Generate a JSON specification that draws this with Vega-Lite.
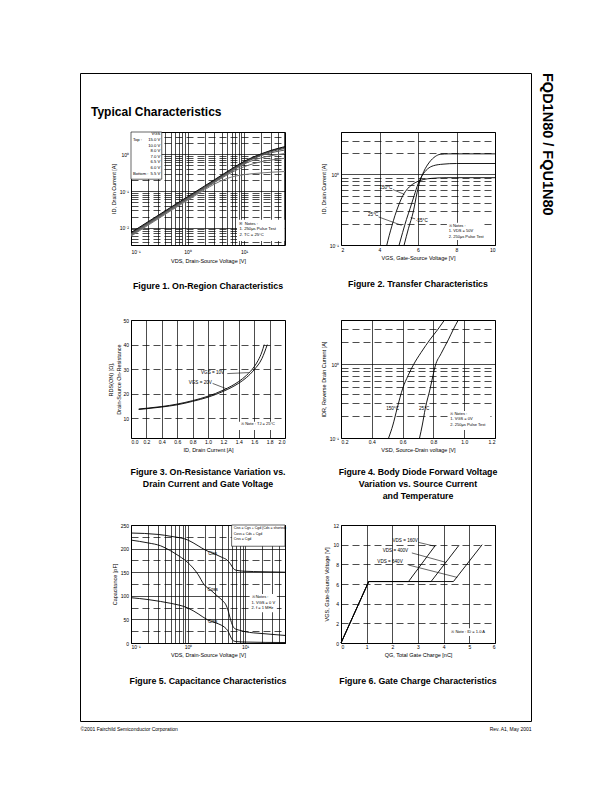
{
"$schema": "https://vega.github.io/schema/vega-lite/v6.json",
"background": "white",
"padding": {"left": 79, "top": 72, "right": 0, "bottom": 0},
"datasets": {
 "f1": [
  {"s":"15.0V","x":[0.1,0.2,0.5,1,2,3,5,7,10,15,20,30,53],"y":[0.0074,0.0146,0.0357,0.070,0.137,0.204,0.336,0.465,0.64,0.86,1.03,1.28,1.62]},
  {"s":"10.0V","x":[0.1,0.2,0.5,1,2,3,5,7,10,15,20,30,53],"y":[0.0071,0.0140,0.0345,0.067,0.132,0.197,0.324,0.448,0.62,0.84,1.0,1.24,1.55]},
  {"s":"8.0V","x":[0.1,0.2,0.5,1,2,3,5,7,10,15,20,30,53],"y":[0.0069,0.0135,0.0332,0.065,0.127,0.189,0.312,0.43,0.60,0.81,0.96,1.18,1.45]},
  {"s":"7.0V","x":[0.1,0.2,0.5,1,2,3,5,7,10,15,20,30,53],"y":[0.0066,0.0130,0.0319,0.0623,0.1225,0.182,0.30,0.41,0.58,0.77,0.92,1.1,1.31]},
  {"s":"6.5V","x":[0.1,0.2,0.5,1,2,3,5,7,10,15,20,30,53],"y":[0.0064,0.0126,0.0309,0.060,0.119,0.176,0.29,0.395,0.54,0.70,0.80,0.92,1.05]},
  {"s":"6.0V","x":[0.1,0.2,0.5,1,2,3,5,7,10,15,20,30,53],"y":[0.0062,0.0122,0.030,0.0585,0.115,0.170,0.275,0.36,0.46,0.56,0.63,0.70,0.78]},
  {"s":"5.5V","x":[0.1,0.2,0.5,1,2,3,5,7,10,15,20,30,53],"y":[0.0059,0.0117,0.0287,0.056,0.108,0.155,0.22,0.255,0.28,0.30,0.31,0.325,0.34]}
 ],
 "f1legbox": [{"x":0.1,"x2":0.35,"y":0.21,"y2":4.05}],
 "f1box": [{"x":7.5,"x2":52,"y":0.0044,"y2":0.0165}],
 "f1tl": [{"x":0.108,"y":2.78,"t":"Top :"},{"x":0.108,"y":0.338,"t":"Bottom :"},{"x":8.3,"y":0.0145,"t":"※ Notes :\n1. 250μs Pulse Test\n2. TC = 25°C"}],
 "f1tr": [{"x":0.33,"y":3.95,"t":"VGS\n15.0 V\n10.0 V\n8.0 V\n7.0 V\n6.5 V\n6.0 V\n5.5 V"}],
 "f2": [
  {"s":"150°C","x":[4.38,4.5,4.64,4.8,5.0,5.16,5.4,5.7,6.0,6.3,6.7,7.5,10],"y":[0.1,0.135,0.185,0.26,0.37,0.47,0.6,0.72,0.8,0.85,0.88,0.9,0.9]},
  {"s":"25°C","x":[5.02,5.2,5.4,5.59,5.8,6.0,6.2,6.5,6.8,7.3,8,10],"y":[0.1,0.15,0.23,0.33,0.5,0.73,0.95,1.2,1.33,1.4,1.43,1.43]},
  {"s":"-55°C","x":[5.28,5.5,5.76,5.95,6.1,6.3,6.6,6.9,7.15,7.6,10],"y":[0.1,0.17,0.3,0.55,0.8,1.1,1.5,1.8,1.93,1.96,1.96]}
 ],
 "f2lab": [{"x":4.33,"y":0.64,"t":"150°C"},{"x":3.67,"y":0.267,"t":"25°C"},{"x":6.2,"y":0.22,"t":"-55°C"}],
 "f2arr": [{"x":4.7,"y":0.61,"x2":5.3,"y2":0.52},{"x":3.95,"y":0.25,"x2":5.15,"y2":0.19},{"x":5.85,"y":0.235,"x2":5.62,"y2":0.245}],
 "f2box": [{"x":7.5,"x2":9.3,"y":0.118,"y2":0.207}],
 "f2note": [{"x":7.6,"y":0.2,"t":"※ Notes :\n1. VDS = 50V\n2. 250μs Pulse Test"}],
 "f3": [
  {"s":"10V","x":[0.1,0.2,0.4,0.6,0.8,1.0,1.2,1.4,1.5,1.6,1.65,1.7,1.73],"y":[13.8,14.1,14.8,15.8,17.2,19.0,21.5,25.0,27.5,31.0,33.5,37.0,40.0]},
  {"s":"20V","x":[0.1,0.2,0.4,0.6,0.8,1.0,1.2,1.4,1.5,1.6,1.7,1.77],"y":[13.6,13.9,14.6,15.5,16.9,18.6,21.0,24.3,26.6,29.8,34.3,40.0]}
 ],
 "f3lab": [{"x":1.06,"y":28.5,"t":"VGS = 10V"},{"x":0.9,"y":24.5,"t":"VGS = 20V"}],
 "f3arr": [{"x":1.25,"y":28.2,"x2":1.53,"y2":28.6},{"x":1.06,"y":24.2,"x2":1.25,"y2":21.9}],
 "f3box": [{"x":1.4,"x2":1.98,"y":5.3,"y2":8.6}],
 "f3note": [{"x":1.43,"y":8.4,"t":"※ Note : TJ = 25°C"}],
 "f4": [
  {"s":"150°C","x":[0.509,0.537,0.564,0.602,0.635,0.672,0.72,0.78,0.83,0.87],"y":[0.1,0.15,0.25,0.48,0.7,1.0,1.45,2.2,3.0,3.94]},
  {"s":"25°C","x":[0.71,0.728,0.747,0.78,0.797,0.812,0.85,0.899,0.93,0.96],"y":[0.1,0.15,0.25,0.48,0.7,0.95,1.4,2.2,3.0,3.94]}
 ],
 "f4lab": [{"x":0.535,"y":0.25,"t":"150°C"},{"x":0.74,"y":0.25,"t":"25°C"}],
 "f4box": [{"x":0.9,"x2":1.17,"y":0.128,"y2":0.233}],
 "f4note": [{"x":0.91,"y":0.225,"t":"※ Notes :\n1. VGS = 0V\n2. 250μs Pulse Test"}],
 "f5": [
  {"s":"Ciss","x":[0.1,0.3,0.5,1,1.5,2,3,4,4.8,5.5,6.2,7,10,20,50],"y":[233,230,226,218,206,197,188,181,176,168,158,154,152,151,150]},
  {"s":"Coss","x":[0.1,0.2,0.33,0.5,0.7,1,1.5,1.9,2.5,3.3,4.0,4.6,5.0,5.4,5.9,6.5,8,10,20,50],"y":[218,212,206,195,184,170,145,124,112,99,90,81,70,55,40,31,27,24,20,16]},
  {"s":"Crss","x":[0.1,0.2,0.33,0.5,1,1.5,2.2,3,3.8,4.4,4.9,5.4,5.8,6.4,7,10,50],"y":[96,92,88,84,74,62,49,43,38,33,27,17,9,4,3,2,1]}
 ],
 "f5lab": [{"x":2.7,"y":188,"t":"Ciss"},{"x":2.7,"y":112,"t":"Coss"},{"x":2.7,"y":45,"t":"Crss"}],
 "f5legbox": [{"x":5.8,"x2":50,"y":205,"y2":250}],
 "f5leg": [{"x":6.3,"y":247,"t":"Ciss = Cgs + Cgd (Cds = shorted)\nCoss = Cds + Cgd\nCrss = Cgd"}],
 "f5box": [{"x":12,"x2":36,"y":65,"y2":104}],
 "f5note": [{"x":13,"y":101,"t":"※ Notes :\n1. VGS = 0 V\n2. f = 1 MHz"}],
 "f6": [
  {"s":"160V","x":[0,1.08,2.63,3.67],"y":[0,6.25,6.25,9.9]},
  {"s":"400V","x":[0,1.08,3.51,4.6],"y":[0,6.25,6.25,9.95]},
  {"s":"640V","x":[0,1.08,4.38,5.5],"y":[0,6.25,6.25,10]}
 ],
 "f6lab": [{"x":2.5,"y":10.4,"t":"VDS = 160V"},{"x":2.12,"y":9.4,"t":"VDS = 400V"},{"x":1.91,"y":8.2,"t":"VDS = 640V"}],
 "f6arr": [{"x":3.02,"y":10.23,"x2":3.67,"y2":9.83},{"x":2.76,"y":9.16,"x2":4.09,"y2":8.2},{"x":2.63,"y":7.93,"x2":4.53,"y2":6.67}],
 "f6box": [{"x":4.2,"x2":5.95,"y":0.7,"y2":1.5}],
 "f6note": [{"x":4.3,"y":1.28,"t":"※ Note : ID = 1.0 A"}]
},
"columns": 2,
"align": "none",
"spacing": -464,
"concat": [
 {
  "width": 451, "height": 648,
  "data": {"values": [{"footer": "©2001 Fairchild Semiconductor Corporation"}, {"footer": "Rev. A1, May 2001"}]},
  "mark": {"type": "point", "size": 0, "strokeWidth": 0, "opacity": 0},
  "encoding": {"x": {"field": "footer", "type": "nominal", "sort": null, "scale": {"type": "point", "padding": 0}, "axis": {"title": null, "labelFlush": true, "labelAngle": 0, "grid": false, "labelPadding": 5, "labelFontSize": 5, "labelLimit": 300}}},
  "title": {"text": "FQD1N80 / FQU1N80", "orient": "right", "anchor": "start", "fontSize": 14.5, "fontWeight": "bold", "offset": 8},
  "view": {"stroke": "black", "strokeWidth": 1}
 },
 {
  "columns": 2,
  "spacing": {"row": 0, "column": 56},
  "bounds": "flush",
  "align": "each",
  "concat": [
   {"width": 154, "height": 59, "data": {"values": []}, "mark": "point", "view": {"stroke": null},
    "title": {"text": "Typical Characteristics", "orient": "top", "anchor": "start", "frame": "group", "dx": -40, "offset": -45.5, "fontSize": 12, "fontWeight": "bold"}},
   {"width": 154, "height": 59, "data": {"values": []}, "mark": "point", "view": {"stroke": null}},
   {
    "width": 154, "height": 113,
    "title": {"text": "Figure 1. On-Region Characteristics", "orient": "bottom", "anchor": "middle", "offset": 18.5},
    "encoding": {
     "x": {"field": "x", "type": "quantitative", "scale": {"type": "log", "domain": [0.1, 53], "nice": false},
      "axis": {"title": "VDS, Drain-Source Voltage [V]", "values": [0.1,0.2,0.3,0.4,0.5,0.6,0.7,0.8,0.9,1,2,3,4,5,6,7,8,9,10,20,30,40,50], "labelExpr": "datum.value == 0.1 ? '10⁻¹' : datum.value == 1 ? '10⁰' : datum.value == 10 ? '10¹' : ''", "labelPadding": 4, "titlePadding": 4}},
     "y": {"field": "y", "type": "quantitative", "scale": {"type": "log", "domain": [0.0034, 4.05], "nice": false},
      "axis": {"title": "ID, Drain Current [A]", "values": [0.004,0.005,0.006,0.007,0.008,0.009,0.01,0.02,0.03,0.04,0.05,0.06,0.07,0.08,0.09,0.1,0.2,0.3,0.4,0.5,0.6,0.7,0.8,0.9,1,2,3,4], "labelExpr": "datum.value == 0.01 ? '10⁻²' : datum.value == 0.1 ? '10⁻¹' : datum.value == 1 ? '10⁰' : ''",
       "gridDash": {"condition": {"test": "datum.value == 0.01 || datum.value == 0.1 || datum.value == 1", "value": []}, "value": [7, 4]}}}
    },
    "layer": [
     {"data": {"name": "f1"}, "transform": [{"flatten": ["x", "y"]}],
      "mark": {"type": "line", "interpolate": "monotone", "strokeWidth": 1},
      "encoding": {"color": {"field": "s", "type": "nominal", "sort": null, "scale": {"range": ["#000000", "#222222", "#444444", "#555555", "#666666", "#666666", "#777777"]}, "legend": null}}},
     {"data": {"name": "f1legbox"}, "mark": {"type": "rect", "fill": "white", "stroke": "black", "strokeWidth": 0.6},
      "encoding": {"x2": {"field": "x2"}, "y2": {"field": "y2"}}},
     {"data": {"name": "f1box"}, "mark": {"type": "rect", "fill": "white"},
      "encoding": {"x2": {"field": "x2"}, "y2": {"field": "y2"}}},
     {"data": {"name": "f1tl"}, "mark": {"type": "text", "align": "left", "baseline": "top", "fontSize": 4.2, "lineHeight": 5.6, "lineBreak": "\n"},
      "encoding": {"text": {"field": "t"}}},
     {"data": {"name": "f1tr"}, "mark": {"type": "text", "align": "right", "baseline": "top", "fontSize": 4.2, "lineHeight": 5.6, "lineBreak": "\n"},
      "encoding": {"text": {"field": "t"}}}
    ]
   },
   {
    "width": 154, "height": 113,
    "title": {"text": "Figure 2. Transfer Characteristics", "orient": "bottom", "anchor": "middle", "offset": 18.5},
    "encoding": {
     "x": {"field": "x", "type": "quantitative", "scale": {"domain": [2, 10], "nice": false},
      "axis": {"title": "VGS, Gate-Source Voltage [V]", "values": [2,4,6,8,10], "format": "d"}},
     "y": {"field": "y", "type": "quantitative", "scale": {"type": "log", "domain": [0.1, 4], "nice": false},
      "axis": {"title": "ID, Drain Current [A]", "values": [0.1,0.2,0.3,0.4,0.5,0.6,0.7,0.8,0.9,1,2,3,4], "labelExpr": "datum.value == 0.1 ? '10⁻¹' : datum.value == 1 ? '10⁰' : ''",
       "gridDash": {"condition": {"test": "datum.value == 0.1 || datum.value == 1", "value": []}, "value": [7, 4]}}}
    },
    "layer": [
     {"data": {"name": "f2"}, "transform": [{"flatten": ["x", "y"]}],
      "mark": {"type": "line", "interpolate": "monotone", "strokeWidth": 0.9, "color": "black"},
      "encoding": {"detail": {"field": "s"}}},
     {"data": {"name": "f2box"}, "mark": {"type": "rect", "fill": "white"},
      "encoding": {"x2": {"field": "x2"}, "y2": {"field": "y2"}}},
     {"data": {"name": "f2arr"}, "mark": {"type": "rule", "strokeWidth": 0.6, "color": "black"},
      "encoding": {"x2": {"field": "x2"}, "y2": {"field": "y2"}}},
     {"data": {"name": "f2lab"}, "mark": {"type": "text", "align": "center", "baseline": "middle", "fontSize": 4.6},
      "encoding": {"text": {"field": "t"}}},
     {"data": {"name": "f2note"}, "mark": {"type": "text", "align": "left", "baseline": "top", "fontSize": 4.0, "lineHeight": 5.4, "lineBreak": "\n"},
      "encoding": {"text": {"field": "t"}}}
    ]
   },
   {"width": 154, "height": 75, "data": {"values": []}, "mark": "point", "view": {"stroke": null}},
   {"width": 154, "height": 75, "data": {"values": []}, "mark": "point", "view": {"stroke": null}},
   {
    "width": 154, "height": 118,
    "title": {"text": ["Figure 3. On-Resistance Variation  vs.", "Drain Current and Gate Voltage"], "orient": "bottom", "anchor": "middle", "offset": 15, "lineHeight": 12},
    "encoding": {
     "x": {"field": "x", "type": "quantitative", "scale": {"domain": [0, 2], "nice": false},
      "axis": {"title": "ID, Drain Current [A]", "values": [0,0.2,0.4,0.6,0.8,1.0,1.2,1.4,1.6,1.8,2.0], "format": ".1f", "labelPadding": 1.5}},
     "y": {"field": "y", "type": "quantitative", "scale": {"domain": [2, 50], "nice": false, "zero": false},
      "axis": {"title": ["RDS(ON) [Ω],", "Drain-Source On-Resistance"], "values": [10,20,30,40,50], "format": "d", "gridDash": [7, 4], "titlePadding": 1.5}}
    },
    "layer": [
     {"data": {"name": "f3"}, "transform": [{"flatten": ["x", "y"]}],
      "mark": {"type": "line", "interpolate": "monotone", "strokeWidth": 0.9, "color": "black"},
      "encoding": {"detail": {"field": "s"}}},
     {"data": {"name": "f3box"}, "mark": {"type": "rect", "fill": "white"},
      "encoding": {"x2": {"field": "x2"}, "y2": {"field": "y2"}}},
     {"data": {"name": "f3arr"}, "mark": {"type": "rule", "strokeWidth": 0.6, "color": "black"},
      "encoding": {"x2": {"field": "x2"}, "y2": {"field": "y2"}}},
     {"data": {"name": "f3lab"}, "mark": {"type": "text", "align": "center", "baseline": "middle", "fontSize": 4.6},
      "encoding": {"text": {"field": "t"}}},
     {"data": {"name": "f3note"}, "mark": {"type": "text", "align": "left", "baseline": "top", "fontSize": 4.0},
      "encoding": {"text": {"field": "t"}}}
    ]
   },
   {
    "width": 154, "height": 118,
    "title": {"text": ["Figure 4. Body Diode Forward Voltage", "Variation vs. Source Current", "and Temperature"], "orient": "bottom", "anchor": "middle", "offset": 15, "lineHeight": 12},
    "encoding": {
     "x": {"field": "x", "type": "quantitative", "scale": {"domain": [0.2, 1.2], "nice": false},
      "axis": {"title": "VSD, Source-Drain voltage [V]", "values": [0.2,0.4,0.6,0.8,1.0,1.2], "format": ".1f", "labelPadding": 1.5}},
     "y": {"field": "y", "type": "quantitative", "scale": {"type": "log", "domain": [0.1, 4], "nice": false},
      "axis": {"title": "IDR, Reverse Drain Current [A]", "values": [0.1,0.2,0.3,0.4,0.5,0.6,0.7,0.8,0.9,1,2,3,4], "labelExpr": "datum.value == 0.1 ? '10⁻¹' : datum.value == 1 ? '10⁰' : ''",
       "gridDash": {"condition": {"test": "datum.value == 0.1 || datum.value == 1", "value": []}, "value": [7, 4]}}}
    },
    "layer": [
     {"data": {"name": "f4"}, "transform": [{"flatten": ["x", "y"]}],
      "mark": {"type": "line", "interpolate": "monotone", "strokeWidth": 0.9, "color": "black"},
      "encoding": {"detail": {"field": "s"}}},
     {"data": {"name": "f4box"}, "mark": {"type": "rect", "fill": "white"},
      "encoding": {"x2": {"field": "x2"}, "y2": {"field": "y2"}}},
     {"data": {"name": "f4lab"}, "mark": {"type": "text", "align": "center", "baseline": "middle", "fontSize": 4.6},
      "encoding": {"text": {"field": "t"}}},
     {"data": {"name": "f4note"}, "mark": {"type": "text", "align": "left", "baseline": "top", "fontSize": 4.0, "lineHeight": 5.4, "lineBreak": "\n"},
      "encoding": {"text": {"field": "t"}}}
    ]
   },
   {"width": 154, "height": 87, "data": {"values": []}, "mark": "point", "view": {"stroke": null}},
   {"width": 154, "height": 87, "data": {"values": []}, "mark": "point", "view": {"stroke": null}},
   {
    "width": 154, "height": 118,
    "title": {"text": "Figure 5. Capacitance Characteristics", "orient": "bottom", "anchor": "middle", "offset": 18.5},
    "encoding": {
     "x": {"field": "x", "type": "quantitative", "scale": {"type": "log", "domain": [0.1, 50], "nice": false},
      "axis": {"title": "VDS, Drain-Source Voltage [V]", "values": [0.1,0.2,0.3,0.4,0.5,0.6,0.7,0.8,0.9,1,2,3,4,5,6,7,8,9,10,20,30,40,50], "labelExpr": "datum.value == 0.1 ? '10⁻¹' : datum.value == 1 ? '10⁰' : datum.value == 10 ? '10¹' : ''", "labelPadding": 1.5}},
     "y": {"field": "y", "type": "quantitative", "scale": {"domain": [0, 250], "nice": false},
      "axis": {"title": "Capacitance [pF]", "values": [0,25,50,75,100,125,150,175,200,225,250], "labelExpr": "datum.value % 50 == 0 ? datum.label : ''",
       "gridDash": {"condition": {"test": "datum.value % 50 == 0", "value": []}, "value": [7, 4]}}}
    },
    "layer": [
     {"data": {"name": "f5"}, "transform": [{"flatten": ["x", "y"]}],
      "mark": {"type": "line", "interpolate": "monotone", "strokeWidth": 0.9, "color": "black"},
      "encoding": {"detail": {"field": "s"}}},
     {"data": {"name": "f5legbox"}, "mark": {"type": "rect", "fill": "white", "stroke": "black", "strokeWidth": 0.6},
      "encoding": {"x2": {"field": "x2"}, "y2": {"field": "y2"}}},
     {"data": {"name": "f5box"}, "mark": {"type": "rect", "fill": "white"},
      "encoding": {"x2": {"field": "x2"}, "y2": {"field": "y2"}}},
     {"data": {"name": "f5lab"}, "mark": {"type": "text", "align": "center", "baseline": "middle", "fontSize": 4.6},
      "encoding": {"text": {"field": "t"}}},
     {"data": {"name": "f5leg"}, "mark": {"type": "text", "align": "left", "baseline": "top", "fontSize": 3.5, "lineHeight": 5.4, "lineBreak": "\n"},
      "encoding": {"text": {"field": "t"}}},
     {"data": {"name": "f5note"}, "mark": {"type": "text", "align": "left", "baseline": "top", "fontSize": 4.0, "lineHeight": 5.4, "lineBreak": "\n"},
      "encoding": {"text": {"field": "t"}}}
    ]
   },
   {
    "width": 154, "height": 118,
    "title": {"text": "Figure 6. Gate  Charge Characteristics", "orient": "bottom", "anchor": "middle", "offset": 18.5},
    "encoding": {
     "x": {"field": "x", "type": "quantitative", "scale": {"domain": [0, 6], "nice": false},
      "axis": {"title": "QG, Total Gate Charge [nC]", "values": [0,1,2,3,4,5,6], "format": "d", "labelPadding": 1.5}},
     "y": {"field": "y", "type": "quantitative", "scale": {"domain": [0, 12], "nice": false},
      "axis": {"title": "VGS, Gate-Source Voltage [V]", "values": [0,2,4,6,8,10,12], "format": "d", "gridDash": [7, 4]}}
    },
    "layer": [
     {"data": {"name": "f6"}, "transform": [{"flatten": ["x", "y"]}],
      "mark": {"type": "line", "strokeWidth": 0.9, "color": "black"},
      "encoding": {"detail": {"field": "s"}}},
     {"data": {"name": "f6box"}, "mark": {"type": "rect", "fill": "white"},
      "encoding": {"x2": {"field": "x2"}, "y2": {"field": "y2"}}},
     {"data": {"name": "f6arr"}, "mark": {"type": "rule", "strokeWidth": 0.6, "color": "black"},
      "encoding": {"x2": {"field": "x2"}, "y2": {"field": "y2"}}},
     {"data": {"name": "f6lab"}, "mark": {"type": "text", "align": "center", "baseline": "middle", "fontSize": 4.6},
      "encoding": {"text": {"field": "t"}}},
     {"data": {"name": "f6note"}, "mark": {"type": "text", "align": "left", "baseline": "top", "fontSize": 4.0},
      "encoding": {"text": {"field": "t"}}}
    ]
   }
  ]
 }
],
"config": {
 "font": "Liberation Sans",
 "view": {"stroke": "black", "strokeWidth": 1},
 "axis": {"domain": false, "ticks": false, "grid": true, "gridColor": "black", "gridWidth": 0.7, "gridOpacity": 1, "labelFontSize": 5, "labelColor": "black", "labelPadding": 2.5, "labelOverlap": false, "titleFontSize": 5.5, "titleFontWeight": "normal", "titleColor": "black", "titlePadding": 3},
 "title": {"color": "black", "fontWeight": "bold", "fontSize": 8.8},
 "text": {"color": "black"}
}
}
